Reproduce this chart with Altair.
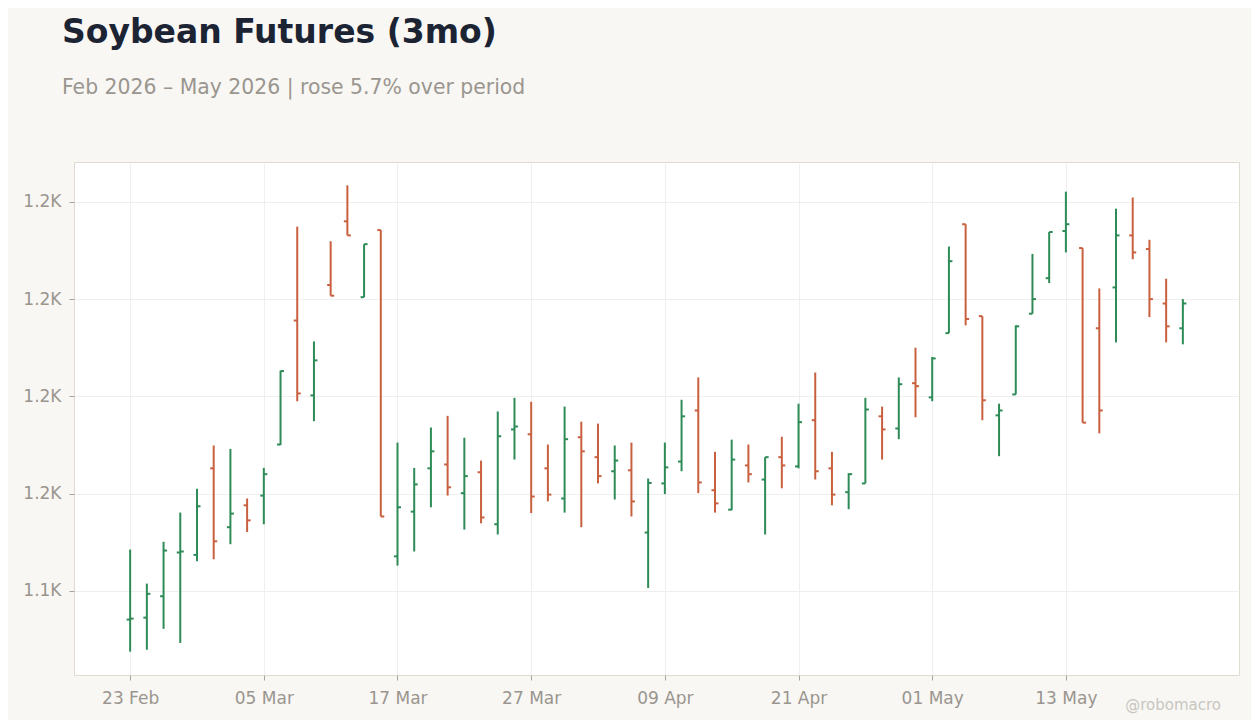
import altair as alt
import pandas as pd
import numpy as np

# trading days, Feb 23 - May 22 2026 (Good Friday closed)
days = [d for d in pd.bdate_range("2026-02-23", "2026-05-22") if d != pd.Timestamp("2026-04-03")]

opens = [1134.1, 1134.5, 1138.9, 1147.9, 1147.4, 1165.2, 1153.1, 1157.6, 1159.6, 1170.1,
         1195.6, 1180.2, 1202.9, 1216.0, 1200.4, 1214.2, 1147.1, 1156.3, 1165.2, 1166.0,
         1160.1, 1164.4, 1153.7, 1173.2, 1172.2, 1165.2, 1159.0, 1171.6, 1167.5, 1164.6,
         1164.8, 1152.0, 1162.1, 1166.6, 1177.1, 1160.7, 1156.7, 1165.8, 1162.9, 1167.5,
         1165.6, 1175.1, 1165.2, 1160.3, 1162.1, 1175.9, 1173.4, 1182.7, 1179.8, 1193.0,
         1215.4, 1196.5, 1176.1, 1180.4, 1197.0, 1204.3, 1214.0, 1210.5, 1194.0, 1202.4,
         1213.1, 1210.3, 1199.1, 1194.0]
highs = [1148.5, 1141.5, 1150.1, 1156.1, 1161.0, 1169.9, 1169.2, 1159.0, 1165.3, 1185.3,
         1214.9, 1191.3, 1211.9, 1223.4, 1211.3, 1214.2, 1170.5, 1165.3, 1173.6, 1176.0,
         1171.5, 1166.8, 1176.9, 1179.7, 1178.9, 1170.1, 1177.9, 1174.8, 1174.4, 1169.9,
         1170.5, 1163.1, 1170.5, 1179.3, 1183.9, 1168.6, 1171.1, 1170.1, 1167.5, 1171.7,
         1178.5, 1184.9, 1168.6, 1164.2, 1179.7, 1177.9, 1183.9, 1190.0, 1188.1, 1210.8,
         1215.4, 1196.5, 1178.5, 1194.6, 1209.3, 1213.8, 1222.1, 1210.5, 1202.2, 1218.6,
         1220.9, 1212.2, 1204.2, 1200.0]
lows = [1127.5, 1127.9, 1132.2, 1129.3, 1146.1, 1146.5, 1149.6, 1152.1, 1153.7, 1170.0,
        1179.0, 1174.9, 1200.7, 1213.1, 1200.4, 1155.3, 1145.2, 1148.1, 1157.2, 1159.6,
        1152.6, 1153.9, 1151.6, 1167.0, 1156.0, 1158.4, 1156.1, 1153.1, 1162.1, 1158.8,
        1155.3, 1140.6, 1159.9, 1164.6, 1160.1, 1156.1, 1156.6, 1162.3, 1151.6, 1161.1,
        1165.2, 1162.9, 1157.6, 1156.8, 1162.1, 1167.0, 1171.2, 1175.7, 1179.0, 1193.0,
        1194.6, 1175.1, 1167.7, 1180.4, 1197.0, 1203.3, 1209.6, 1174.6, 1172.4, 1191.1,
        1208.2, 1196.3, 1191.1, 1190.7]
closes = [1134.3, 1139.4, 1148.3, 1148.1, 1157.4, 1150.2, 1155.9, 1154.5, 1164.0, 1185.2,
          1180.6, 1187.4, 1200.7, 1213.1, 1211.3, 1155.3, 1157.2, 1161.9, 1168.7, 1161.3,
          1163.6, 1155.1, 1171.8, 1173.8, 1159.4, 1159.8, 1171.2, 1168.7, 1163.6, 1166.8,
          1158.4, 1162.2, 1165.4, 1175.9, 1162.3, 1158.0, 1167.0, 1164.0, 1167.5, 1165.8,
          1174.7, 1164.6, 1159.8, 1164.0, 1177.3, 1173.2, 1182.5, 1182.1, 1187.8, 1207.8,
          1195.9, 1179.2, 1177.1, 1194.4, 1200.0, 1213.8, 1215.4, 1174.6, 1177.1, 1213.1,
          1209.6, 1200.0, 1194.4, 1199.1]

GREEN = "#2e8b57"
RED = "#c8603f"
FONT = "DejaVu Sans"

df = pd.DataFrame({
    "idx": range(len(days)),
    "open": opens, "high": highs, "low": lows, "close": closes,
})
df["dir"] = np.where(df["close"] >= df["open"], "up", "down")

# axis labels every 8 trading days
tick_idx = list(range(0, len(days), 8))
tick_labels = [days[i].strftime("%d %b") for i in tick_idx]
label_expr = "[" + ",".join("'%s'" % t for t in tick_labels) + "][round(datum.value / 8)]"

lo, hi = min(lows), max(highs)
pad = (hi - lo) * 0.05
yscale = alt.Scale(domain=[lo - pad, hi + pad], nice=False, zero=False)
xscale = alt.Scale(domain=[-3.36, 66.36], nice=False, zero=False)

base = alt.Chart(df).encode(
    x=alt.X("idx:Q", scale=xscale, title=None,
            axis=alt.Axis(values=tick_idx, labelExpr=label_expr, labelPadding=10)),
    color=alt.Color("dir:N", scale=alt.Scale(domain=["up", "down"], range=[GREEN, RED]), legend=None),
)

hl = base.mark_rule(strokeWidth=2).encode(
    y=alt.Y("low:Q", scale=yscale, title=None,
            axis=alt.Axis(values=[1140, 1160, 1180, 1200, 1220],
                          labelExpr="replace(format(datum.value, '.2s'), 'k', 'K')",
                          labelPadding=8)),
    y2="high:Q",
)
op = base.mark_rule(strokeWidth=2, x2Offset=-3.5).encode(x2="idx:Q", y="open:Q")
cl = base.mark_rule(strokeWidth=2, x2Offset=3.5).encode(x2="idx:Q", y="close:Q")

mark = alt.Chart(pd.DataFrame({"t": ["@robomacro"]})).mark_text(
    font=FONT, fontSize=15, color="#c9c6c0", align="right", baseline="alphabetic"
).encode(x=alt.value(1147), y=alt.value(548), text="t:N")

chart = alt.layer(hl, op, cl, mark).properties(
    width=1165,
    height=513,
    autosize="none",
    padding={"left": 66, "top": 154, "right": 12, "bottom": 45},
    background="#f8f7f4",
    title=alt.TitleParams(
        text="Soybean Futures (3mo)",
        subtitle="Feb 2026 – May 2026 | rose 5.7% over period",
        anchor="start", frame="group", dx=-12, offset=64,
        font=FONT, fontSize=33, fontWeight="bold", color="#1c2434",
        subtitleFont=FONT, subtitleFontSize=20.4, subtitleColor="#9a968f",
        subtitlePadding=28,
    ),
).configure_view(
    fill="white", stroke="#e0dbd2", strokeWidth=1
).configure_axis(
    labelFont=FONT, labelFontSize=17, labelColor="#9a958e",
    tickColor="#a8a39c", tickSize=5, domain=False,
    gridColor="#efefef", gridWidth=1,
)

chart.save("out.html", embed_options={"renderer": "svg", "actions": False})
